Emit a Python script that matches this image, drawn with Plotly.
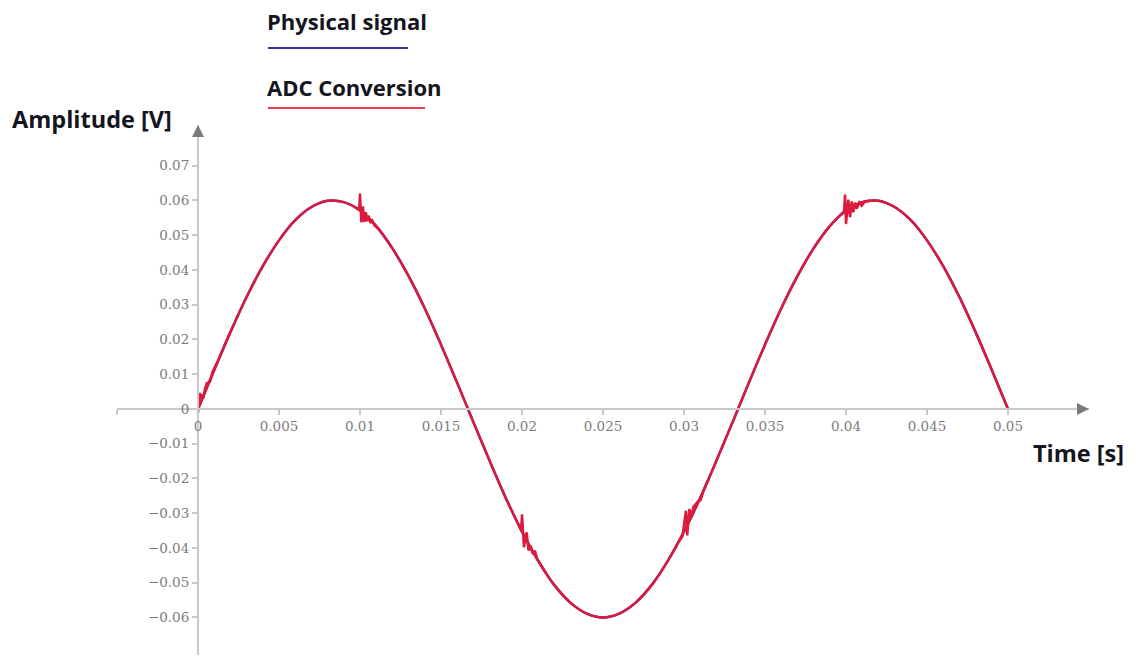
import plotly.graph_objects as go

# Physical signal: 30 Hz, 60 mV sine sampled every 1 ms
time_s = [
    0.000, 0.001, 0.002, 0.003, 0.004, 0.005, 0.006, 0.007, 0.008, 0.009,
    0.010, 0.011, 0.012, 0.013, 0.014, 0.015, 0.016, 0.017, 0.018, 0.019,
    0.020, 0.021, 0.022, 0.023, 0.024, 0.025, 0.026, 0.027, 0.028, 0.029,
    0.030, 0.031, 0.032, 0.033, 0.034, 0.035, 0.036, 0.037, 0.038, 0.039,
    0.040, 0.041, 0.042, 0.043, 0.044, 0.045, 0.046, 0.047, 0.048, 0.049,
    0.050,
]
physical_v = [
    0.0000, 0.0112, 0.0221, 0.0322, 0.0411, 0.0485, 0.0543, 0.0581, 0.0599, 0.0595,
    0.0571, 0.0526, 0.0462, 0.0382, 0.0289, 0.0185, 0.0075, -0.0038, -0.0149, -0.0256,
    -0.0353, -0.0437, -0.0507, -0.0558, -0.0589, -0.0600, -0.0589, -0.0558, -0.0507, -0.0437,
    -0.0353, -0.0256, -0.0149, -0.0038, 0.0075, 0.0185, 0.0289, 0.0382, 0.0462, 0.0526,
    0.0571, 0.0595, 0.0599, 0.0581, 0.0543, 0.0485, 0.0411, 0.0322, 0.0221, 0.0112,
    0.0000,
]

# ADC conversion: follows the signal, with ringing after each conversion instant
adc_ring_t = [
    0.00000, 0.00012, 0.00018, 0.00025, 0.00033, 0.00043, 0.00054, 0.00074, 0.00090, 0.00115, None,
    0.00970, 0.00995, 0.01000, 0.01008, 0.01018, 0.01026, 0.01036, 0.01044, 0.01054, 0.01064, 0.01076, 0.01090, 0.01110, None,
    0.01980, 0.01995, 0.02000, 0.02012, 0.02029, 0.02040, 0.02054, 0.02066, 0.02080, 0.02092, 0.02112, 0.02150, None,
    0.02970, 0.02990, 0.03012, 0.03020, 0.03033, 0.03047, 0.03057, 0.03074, 0.03090, 0.03103, 0.03120, 0.03150, None,
    0.03970, 0.03988, 0.03994, 0.04000, 0.04014, 0.04025, 0.04035, 0.04045, 0.04056, 0.04066, 0.04082, 0.04097, 0.04117, 0.04150,
]
adc_ring_v = [
    -0.0012, 0.0046, 0.0030, 0.0042, 0.0031, 0.0058, 0.0074, 0.0078, 0.0107, 0.0131, None,
    0.0580, 0.0574, 0.0620, 0.0537, 0.0583, 0.0538, 0.0566, 0.0540, 0.0556, 0.0535, 0.0542, 0.0528, 0.0520, None,
    -0.0331, -0.0348, -0.0303, -0.0398, -0.0355, -0.0407, -0.0394, -0.0417, -0.0408, -0.0430, -0.0445, -0.0474, None,
    -0.0380, -0.0367, -0.0293, -0.0364, -0.0288, -0.0311, -0.0283, -0.0273, -0.0264, -0.0262, -0.0235, -0.0204, None,
    0.0559, 0.0567, 0.0617, 0.0532, 0.0602, 0.0552, 0.0597, 0.0566, 0.0594, 0.0576, 0.0594, 0.0585, 0.0597, 0.0600,
]

x_ticks = [-0.005, 0, 0.005, 0.01, 0.015, 0.02, 0.025, 0.03, 0.035, 0.04, 0.045, 0.05]
x_tick_labels = ["", "0", "0.005", "0.01", "0.015", "0.02", "0.025", "0.03", "0.035", "0.04", "0.045", "0.05"]
y_ticks = [0.07, 0.06, 0.05, 0.04, 0.03, 0.02, 0.01, 0, -0.01, -0.02, -0.03, -0.04, -0.05, -0.06]
y_tick_labels = ["0.07", "0.06", "0.05", "0.04", "0.03", "0.02", "0.01", "0",
                 "\u22120.01", "\u22120.02", "\u22120.03", "\u22120.04", "\u22120.05", "\u22120.06"]

X_RANGE = [-0.005, 0.055]
Y_RANGE = [-0.0708, 0.0817]

SIGNAL_BLUE = "#3535a8"
ADC_RED = "#dc1a3c"
AXIS_GREY = "#c9c9c9"
TICK_GREY = "#7c7c7c"
TEXT_DARK = "#151520"

fig = go.Figure()

fig.add_trace(go.Scatter(
    x=time_s, y=physical_v, mode="lines", name="Physical signal",
    line=dict(color=SIGNAL_BLUE, width=2.5, shape="spline", smoothing=1),
    showlegend=False, hoverinfo="skip",
))
fig.add_trace(go.Scatter(
    x=time_s, y=physical_v, mode="lines", name="ADC Conversion",
    line=dict(color=ADC_RED, width=2.5, shape="spline", smoothing=1),
    showlegend=False, hoverinfo="skip",
))
fig.add_trace(go.Scatter(
    x=adc_ring_t, y=adc_ring_v, mode="lines", name="ADC Conversion",
    line=dict(color=ADC_RED, width=2.5), connectgaps=False,
    showlegend=False, hoverinfo="skip",
))

# axes cross at the origin
x_pos = (0 - Y_RANGE[0]) / (Y_RANGE[1] - Y_RANGE[0])
y_pos = (0 - X_RANGE[0]) / (X_RANGE[1] - X_RANGE[0])

tick_font = dict(family="DejaVu Serif", size=13.5, color=TICK_GREY)

fig.update_layout(
    width=1138, height=659,
    margin=dict(l=117, r=49, t=125, b=4),
    paper_bgcolor="white", plot_bgcolor="white",
    xaxis=dict(
        range=X_RANGE, anchor="free", position=x_pos,
        showgrid=False, zeroline=False,
        showline=True, linecolor=AXIS_GREY, linewidth=2,
        ticks="outside", ticklen=5, tickwidth=1.5, tickcolor=AXIS_GREY,
        tickvals=x_ticks, ticktext=x_tick_labels, tickfont=tick_font,
        automargin=False,
    ),
    yaxis=dict(
        range=Y_RANGE, anchor="free", position=y_pos,
        showgrid=False, zeroline=False,
        showline=True, linecolor=AXIS_GREY, linewidth=2,
        ticks="outside", ticklen=5, tickwidth=1.5, tickcolor=AXIS_GREY,
        tickvals=y_ticks, ticktext=y_tick_labels, tickfont=tick_font,
        automargin=False,
    ),
)

# arrow heads at the axis ends
fig.add_annotation(x=X_RANGE[1], y=0, xref="x", yref="y", ax=-10, ay=0,
                   text="", showarrow=True, arrowhead=2, arrowsize=1.6,
                   arrowwidth=1.5, arrowcolor="#7a7a7a")
fig.add_annotation(x=0, y=Y_RANGE[1], xref="x", yref="y", ax=0, ay=10,
                   text="", showarrow=True, arrowhead=2, arrowsize=1.6,
                   arrowwidth=1.5, arrowcolor="#7a7a7a")

label_font = dict(family="Open Sans", size=22, color=TEXT_DARK)
axis_title_font = dict(family="Open Sans", size=23.5, color=TEXT_DARK)

def bold(s):
    return "<b>" + s + "</b>"

fig.add_annotation(x=-0.110, y=1.0113, xref="paper", yref="paper",
                   text=bold("Amplitude [V]"), showarrow=False,
                   xanchor="left", yanchor="middle", font=axis_title_font)
fig.add_annotation(x=0.9404, y=0.381, xref="paper", yref="paper",
                   text=bold("Time [s]"), showarrow=False,
                   xanchor="left", yanchor="middle", font=axis_title_font)

# key
fig.add_annotation(x=0.1523, y=1.1963, xref="paper", yref="paper",
                   text=bold("Physical signal"), showarrow=False,
                   xanchor="left", yanchor="middle", font=label_font)
fig.add_shape(type="line", xref="paper", yref="paper",
              x0=0.1553, x1=0.2994, y0=1.1453, y1=1.1453,
              line=dict(color=SIGNAL_BLUE, width=2))
fig.add_annotation(x=0.1523, y=1.0718, xref="paper", yref="paper",
                   text=bold("ADC Conversion"), showarrow=False,
                   xanchor="left", yanchor="middle", font=label_font)
fig.add_shape(type="line", xref="paper", yref="paper",
              x0=0.1553, x1=0.3169, y0=1.0321, y1=1.0321,
              line=dict(color="#ee4058", width=2))

fig.write_html("out.html")
